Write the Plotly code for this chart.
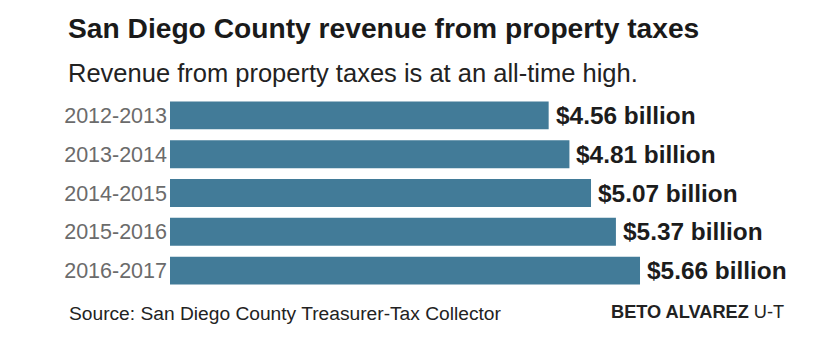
import plotly.graph_objects as go

categories = ["2012-2013", "2013-2014", "2014-2015", "2015-2016", "2016-2017"]
revenue_billions = [4.56, 4.81, 5.07, 5.37, 5.66]
value_labels = ["$%.2f billion" % v for v in revenue_billions]

title_text = "San Diego County revenue from property taxes"
subtitle_text = "Revenue from property taxes is at an all-time high."
source_text = "Source: San Diego County Treasurer-Tax Collector"
credit_bold = "BETO ALVAREZ"
credit_rest = " U-T"

W, H = 827, 353
ML, MR, MT, MB = 170, 34, 95.5, 62.5
PW = W - ML - MR
PH = H - MT - MB


def px_x(px):
    return (px - ML) / PW


def px_y(py):
    return (H - MB - py) / PH


BAR = "#427b98"
FONT = "Liberation Sans, Arial, sans-serif"

fig = go.Figure()
fig.add_trace(go.Bar(
    x=revenue_billions,
    y=categories,
    orientation="h",
    marker=dict(color=BAR, line=dict(width=0)),
    hoverinfo="skip",
))

annotations = []
for cat, v, lab in zip(categories, revenue_billions, value_labels):
    annotations.append(dict(
        x=v, y=cat, xref="x", yref="y", text=lab, showarrow=False,
        xanchor="left", yanchor="middle", xshift=5,
        font=dict(family=FONT, size=24.4, color="#1c1c1c", weight="bold"),
    ))

annotations += [
    dict(x=px_x(66), y=px_y(27), xref="paper", yref="paper", text="<b>" + title_text + "</b>",
         showarrow=False, xanchor="left", yanchor="middle",
         font=dict(family=FONT, size=28.2, color="#1a1a1a")),
    dict(x=px_x(66), y=px_y(72), xref="paper", yref="paper", text=subtitle_text,
         showarrow=False, xanchor="left", yanchor="middle",
         font=dict(family=FONT, size=25.5, color="#222222")),
    dict(x=px_x(67), y=px_y(314), xref="paper", yref="paper", text=source_text,
         showarrow=False, xanchor="left", yanchor="middle",
         font=dict(family=FONT, size=19.2, color="#222222")),
    dict(x=px_x(609), y=px_y(313), xref="paper", yref="paper",
         text="<b>" + credit_bold + "</b>" + credit_rest,
         showarrow=False, xanchor="left", yanchor="middle",
         font=dict(family=FONT, size=18.2, color="#222222")),
]

fig.update_layout(
    width=W, height=H,
    margin=dict(l=ML, r=MR, t=MT, b=MB, pad=0),
    paper_bgcolor="white", plot_bgcolor="white",
    bargap=0.282,
    showlegend=False,
    annotations=annotations,
    xaxis=dict(range=[0, PW / 83.04], visible=False, fixedrange=True),
    yaxis=dict(autorange="reversed", showgrid=False, zeroline=False, showline=False,
               ticks="", ticklabelstandoff=2,
               tickfont=dict(family=FONT, size=21.5, color="#6b6b6b"), fixedrange=True),
)

fig.write_html("out.html")
